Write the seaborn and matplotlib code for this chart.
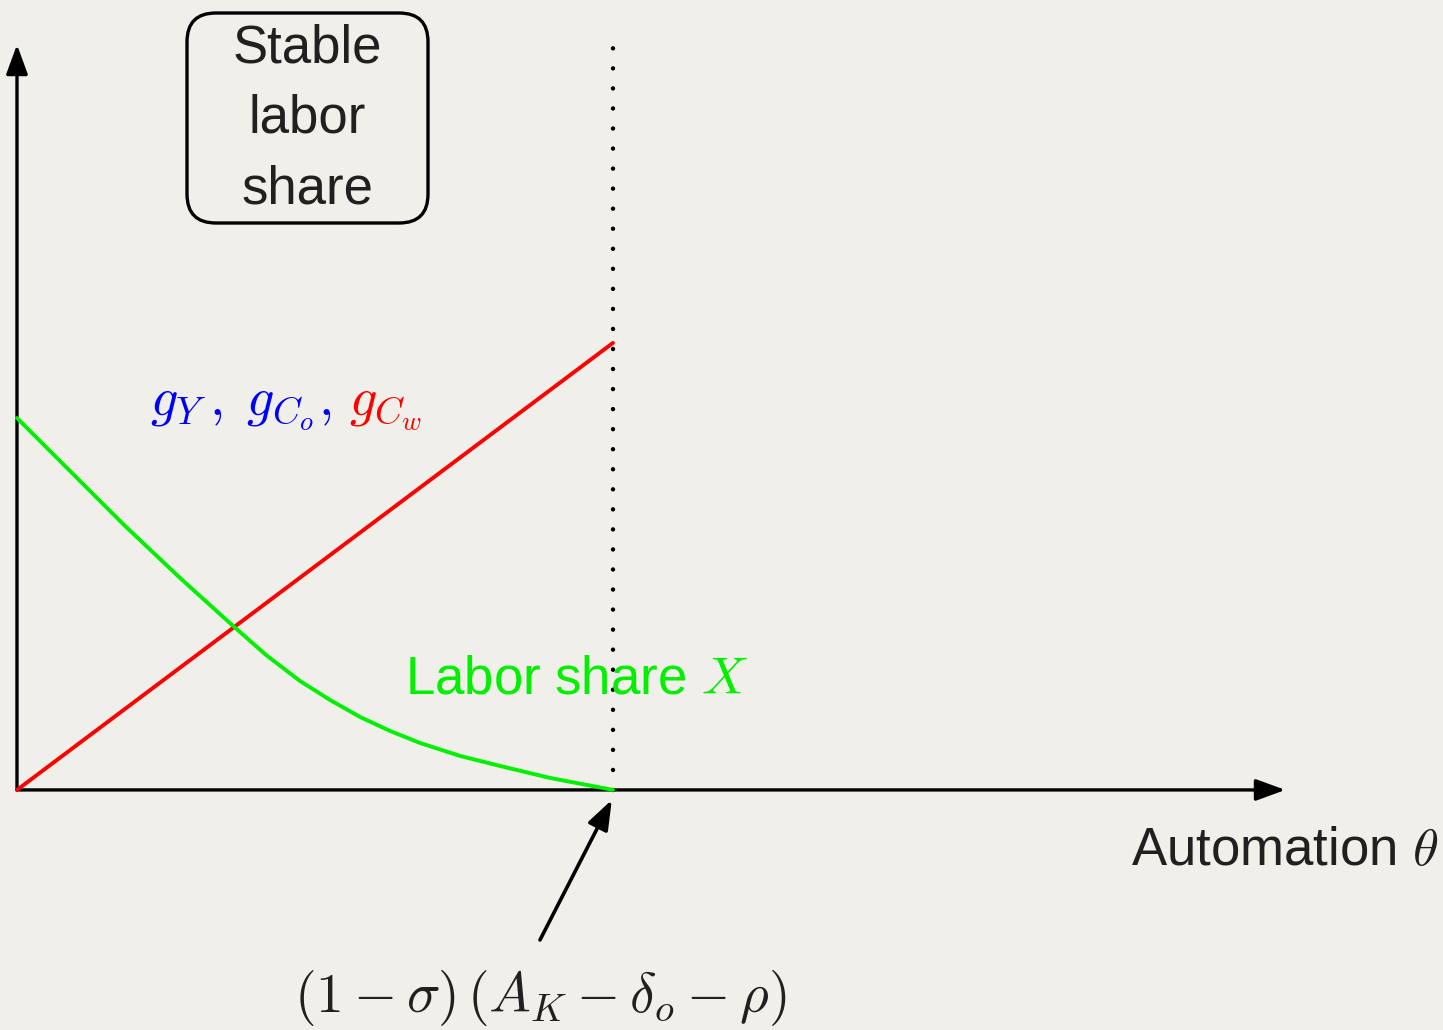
import matplotlib
matplotlib.use("Agg")
import matplotlib.pyplot as plt
from matplotlib.patches import FancyBboxPatch
import pandas as pd
import seaborn as sns

# Automation level, normalised so that the threshold sits at theta = 1
theta = [0.0, 1.0]
# Growth rates g_Y, g_Co, g_Cw rise linearly with automation
growth = [0.0, 1.0]

# Labor share X as automation increases, reaching zero at the threshold
theta_share = [0.0, 0.1795, 0.2735, 0.3607, 0.4178, 0.4748, 0.5252, 0.5755,
               0.6258, 0.6762, 0.7433, 0.8104, 0.8943, 1.0]
labor_share = [0.832, 0.5928, 0.4743, 0.3691, 0.3020, 0.2438, 0.2013, 0.1633,
               0.1320, 0.1051, 0.0761, 0.0537, 0.0268, 0.0]

threshold = 1.0
x_axis_end = 2.128
y_axis_end = 1.667

BG = "#f0efe9"
INK = "#231f20"

sns.set_theme(style="white")
plt.rcParams["font.family"] = ["Liberation Sans", "DejaVu Sans"]
plt.rcParams["mathtext.fontset"] = "cm"

fig = plt.figure(figsize=(14.43, 10.30), dpi=100, facecolor=BG)
ax = fig.add_axes([0, 0, 1, 1])
ax.set_facecolor(BG)

growth_df = pd.DataFrame({"theta": theta, "growth": growth})
share_df = pd.DataFrame({"theta": theta_share, "share": labor_share})

# Coordinate axes drawn as arrows from the origin
arrow_kw = dict(arrowstyle="-|>,head_length=0.9,head_width=0.33", color="black",
                lw=2.4, shrinkA=0, shrinkB=0, mutation_scale=20)
ax.annotate("", xy=(x_axis_end, 0), xytext=(0, 0), arrowprops=arrow_kw)
ax.annotate("", xy=(0, y_axis_end), xytext=(0, 0), arrowprops=arrow_kw)

# Dotted threshold line
ax.plot([threshold, threshold], [0, y_axis_end], color="black", lw=3.2,
        linestyle=(0, (0.01, 4.5)), dash_capstyle="round", zorder=1)

sns.lineplot(data=growth_df, x="theta", y="growth", color="#ff0000", lw=2.8, ax=ax,
             zorder=3)
sns.lineplot(data=share_df, x="theta", y="share", color="#00f000", lw=2.8, ax=ax,
             zorder=3)
ax.set_xlim(-0.0285, 2.3926)
ax.set_ylim(-0.537, 1.767)
ax.set_axis_off()

# Labels
ax.text(0.223, 0.839, r"$g_Y\,,\;g_{C_o},$", color="#0000ff", fontsize=39,
        ha="left", va="baseline")
ax.text(0.557, 0.839, r"$g_{C_w}$", color="#ff0000", fontsize=39,
        ha="left", va="baseline")
ax.text(0.651, 0.246, r"Labor share $X$", color="#00f000", fontsize=38,
        ha="left", va="center")
ax.text(1.869, -0.137, r"Automation $\theta$", color=INK, fontsize=38,
        ha="left", va="center")
ax.text(0.8775, -0.466, r"$(1-\sigma)\,(A_K-\delta_o-\rho)$", color=INK, fontsize=40,
        ha="center", va="center")

# Arrow pointing at the threshold
ax.annotate("", xy=(0.998, -0.0224), xytext=(0.8775, -0.3356),
            arrowprops=dict(arrowstyle="-|>,head_length=0.9,head_width=0.33",
                            color="black", lw=2.6, shrinkA=0, shrinkB=0,
                            mutation_scale=20))

# Boxed regime label
box = FancyBboxPatch((187 / 1443, 1 - 223 / 1030), 241 / 1443, 210 / 1030,
                     boxstyle="round,pad=0,rounding_size=0.02",
                     mutation_aspect=1443 / 1030, transform=fig.transFigure,
                     facecolor="none", edgecolor="black", lw=2.4)
fig.add_artist(box)
ax.text(0.487, 1.501, "Stable\nlabor\nshare", color=INK, fontsize=38,
        ha="center", va="center", linespacing=1.53)

fig.savefig("out.png", dpi=100, facecolor=BG)
